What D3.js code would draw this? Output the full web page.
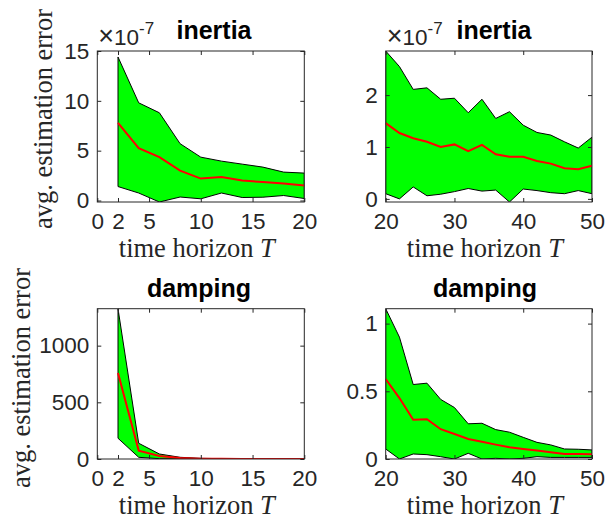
<!DOCTYPE html>
<html lang="en">
<head>
<meta charset="UTF-8">
<title>estimation error vs time horizon</title>
<script src="https://cdn.jsdelivr.net/npm/d3@7"></script>
<style>
  body { margin: 0; background: #fff; }
  svg { display: block; }
  .tick text { font-family: 'Liberation Sans', Arial, sans-serif; fill: #262626; }
  .lbl { font-family: 'Liberation Serif', 'Times New Roman', serif; fill: #262626; }
</style>
</head>
<body>
<div id="fig"></div>
<script>
// horizons
var horizonShort = [2, 4, 6, 8, 10, 12, 14, 16, 18, 20];
var horizonLong  = [20, 22, 24, 26, 28, 30, 32, 34, 36, 38, 40, 42, 44, 46, 48, 50];

// inertia error, in units of 1e-7
var inertiaShortUpper = [14.4, 9.8, 8.8, 5.7, 4.35, 3.95, 3.65, 3.35, 2.85, 2.75];
var inertiaShortMean  = [7.8, 5.25, 4.35, 3.0, 2.2, 2.35, 2.0, 1.85, 1.7, 1.5];
var inertiaShortLower = [1.4, 0.75, -0.15, 0.35, 0.17, 0.75, 0.3, 0.33, 0.5, 0.2];

var inertiaLongUpper = [2.85, 2.55, 2.11, 2.14, 1.92, 1.94, 1.66, 1.92, 1.55, 1.68, 1.42, 1.28, 1.23, 1.10, 0.98, 1.19];
var inertiaLongMean  = [1.46, 1.27, 1.17, 1.10, 1.0, 1.05, 0.92, 1.04, 0.86, 0.81, 0.81, 0.73, 0.68, 0.59, 0.57, 0.64];
var inertiaLongLower = [0.10, 0.0, 0.23, 0.06, 0.09, 0.14, 0.20, 0.15, 0.17, -0.06, 0.19, 0.16, 0.12, 0.10, 0.16, 0.10];

// damping error
var dampingShortUpper = [1326, 139, 44, 15, 6, 3, 2, 1.5, 1, 1];
var dampingShortMean  = [758, 74, 27, 9, 3, 1.5, 1, 0.7, 0.5, 0.4];
var dampingShortLower = [183, 15, 3, 1, 0.5, 0.3, 0.2, 0.1, 0.1, 0.1];

var dampingLongUpper = [1.11, 0.90, 0.55, 0.56, 0.44, 0.38, 0.26, 0.264, 0.217, 0.198, 0.16, 0.123, 0.104, 0.074, 0.072, 0.067];
var dampingLongMean  = [0.59, 0.45, 0.29, 0.294, 0.22, 0.185, 0.148, 0.128, 0.106, 0.086, 0.074, 0.062, 0.049, 0.037, 0.037, 0.035];
var dampingLongLower = [0.074, 0.0, 0.037, 0.032, 0.017, 0.0, 0.042, 0.0, 0.005, 0.0, 0.005, 0.017, 0.012, 0.012, 0.012, 0.012];

// tick values
var xTicksShort = [0, 2, 5, 10, 15, 20];
var xTicksLong  = [20, 30, 40, 50];
var yTicksInertiaShort = [0, 5, 10, 15];
var yTicksInertiaLong  = [0, 1, 2];
var yTicksDampingShort = [0, 500, 1000];
var yTicksDampingLong  = [0, 0.5, 1];

var W = 606, H = 523;
var axisColor = '#262626';
var tickFont = 22.5, titleFont = 25, labelFont = 26.5;

var svg = d3.select('#fig').append('svg').attr('width', W).attr('height', H);
svg.append('rect').attr('width', W).attr('height', H).attr('fill', '#fff');

function zip(xs, ys) { return xs.map(function(x, i) { return [x, ys[i]]; }); }

function panel(o) {
  var x = d3.scaleLinear().domain(o.xDomain).range([o.left, o.right]);
  var y = d3.scaleLinear().domain(o.yDomain).range([o.bottom, o.top]);
  var g = svg.append('g');
  var clipId = 'clip' + o.id;
  svg.append('clipPath').attr('id', clipId).append('rect')
     .attr('x', o.left).attr('y', o.top).attr('width', o.right - o.left).attr('height', o.bottom - o.top);

  // shaded band
  var band = zip(o.xs, o.upper).concat(zip(o.xs, o.lower).reverse());
  g.append('path')
    .attr('clip-path', 'url(#' + clipId + ')')
    .attr('d', d3.line().x(function(d) { return x(d[0]); }).y(function(d) { return y(d[1]); })(band) + 'Z')
    .attr('fill', '#00ff00').attr('stroke', '#000').attr('stroke-width', 1).attr('stroke-linejoin', 'round');

  // mean line
  g.append('path')
    .attr('clip-path', 'url(#' + clipId + ')')
    .attr('d', d3.line().x(function(d) { return x(d[0]); }).y(function(d) { return y(d[1]); })(zip(o.xs, o.mean)))
    .attr('fill', 'none').attr('stroke', '#ff0000').attr('stroke-width', 2);

  // axes, ticks pointing inward on all four sides
  var tk = 4;
  var ax = g.append('g').attr('transform', 'translate(0,' + o.bottom + ')')
    .call(d3.axisBottom(x).tickValues(o.xTicks).tickSizeInner(-tk).tickSizeOuter(0).tickPadding(10).tickFormat(d3.format('')));
  ax.selectAll('text').attr('font-size', tickFont).attr('dy', '0.75em');
  g.append('g').attr('transform', 'translate(0,' + o.top + ')')
    .call(d3.axisTop(x).tickValues(o.xTicks).tickSizeInner(-tk).tickSizeOuter(0).tickFormat(''));
  var ay = g.append('g').attr('transform', 'translate(' + o.left + ',0)')
    .call(d3.axisLeft(y).tickValues(o.yTicks).tickSizeInner(-tk).tickSizeOuter(0).tickPadding(8).tickFormat(d3.format('')));
  ay.selectAll('text').attr('font-size', tickFont);
  g.append('g').attr('transform', 'translate(' + o.right + ',0)')
    .call(d3.axisRight(y).tickValues(o.yTicks).tickSizeInner(-tk).tickSizeOuter(0).tickFormat(''));
  g.selectAll('.domain').remove();
  g.selectAll('.tick line').attr('stroke', axisColor);

  g.append('rect').attr('x', o.left).attr('y', o.top)
    .attr('width', o.right - o.left).attr('height', o.bottom - o.top)
    .attr('fill', 'none').attr('stroke', axisColor).attr('stroke-width', 1);

  // title
  g.append('text').attr('x', o.titleX).attr('y', o.top - 12)
    .attr('text-anchor', 'middle').attr('font-family', "'Liberation Sans', Arial, sans-serif")
    .attr('font-weight', 'bold').attr('font-size', titleFont).attr('fill', '#000')
    .text(o.title);

  // exponent
  if (o.exponent) {
    var e = g.append('text').attr('x', o.left + 1).attr('y', o.top - 6)
      .attr('font-family', "'Liberation Sans', Arial, sans-serif").attr('font-size', tickFont).attr('fill', axisColor);
    e.append('tspan').attr('font-size', 27).text('\u00d7');
    e.append('tspan').text('10');
    e.append('tspan').attr('dy', -11).attr('font-size', 17).text(o.exponent);
  }

  // x label
  var xl = g.append('text').attr('class', 'lbl').attr('x', (o.left + o.right) / 2 - 4).attr('y', o.bottom + 55)
    .attr('text-anchor', 'middle').attr('font-size', labelFont);
  xl.append('tspan').text('time horizon ');
  xl.append('tspan').attr('font-style', 'italic').text('T');

  if (o.ylabelX) {
    g.append('text').attr('class', 'lbl')
      .attr('transform', 'translate(' + o.ylabelX + ',' + o.ylabelY + ') rotate(-90)')
      .attr('text-anchor', 'middle').attr('font-size', labelFont)
      .text('avg. estimation error');
  }
}

panel({ id: 1, left: 97.3, right: 304.3, top: 51, bottom: 202,
  xDomain: [0, 20], yDomain: [d3.min(inertiaShortLower), 15],
  xs: horizonShort, upper: inertiaShortUpper, mean: inertiaShortMean, lower: inertiaShortLower,
  xTicks: xTicksShort, yTicks: yTicksInertiaShort, title: 'inertia', titleX: 214, exponent: '-7',
  ylabelX: 52, ylabelY: 119 });

panel({ id: 2, left: 385.7, right: 592, top: 51, bottom: 202,
  xDomain: [20, 50], yDomain: [d3.min(inertiaLongLower), d3.max(inertiaLongUpper)],
  xs: horizonLong, upper: inertiaLongUpper, mean: inertiaLongMean, lower: inertiaLongLower,
  xTicks: xTicksLong, yTicks: yTicksInertiaLong, title: 'inertia', titleX: 494, exponent: '-7' });

panel({ id: 3, left: 97.3, right: 304.3, top: 308.7, bottom: 459,
  xDomain: [0, 20], yDomain: [0, d3.max(dampingShortUpper)],
  xs: horizonShort, upper: dampingShortUpper, mean: dampingShortMean, lower: dampingShortLower,
  xTicks: xTicksShort, yTicks: yTicksDampingShort, title: 'damping', titleX: 199,
  ylabelX: 30, ylabelY: 378 });

panel({ id: 4, left: 385.7, right: 592, top: 308.7, bottom: 459,
  xDomain: [20, 50], yDomain: [0, d3.max(dampingLongUpper)],
  xs: horizonLong, upper: dampingLongUpper, mean: dampingLongMean, lower: dampingLongLower,
  xTicks: xTicksLong, yTicks: yTicksDampingLong, title: 'damping', titleX: 485 });
</script>
</body>
</html>
